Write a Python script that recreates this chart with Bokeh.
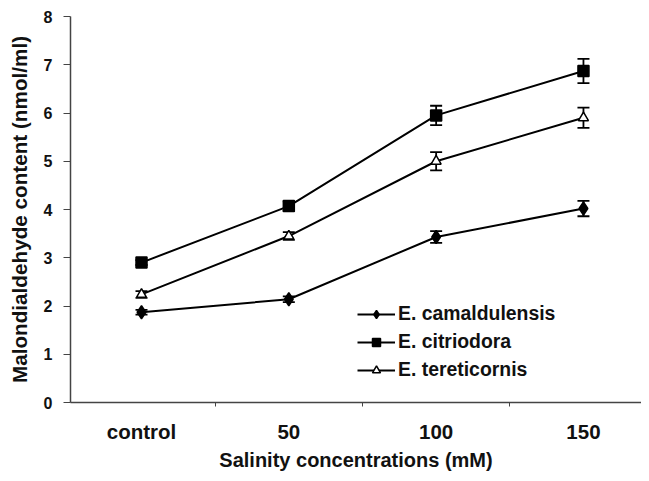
from bokeh.plotting import figure
from bokeh.models import (ColumnDataSource, Range1d, FixedTicker, Whisker, TeeHead,
                          Legend, LegendItem)
from bokeh.embed import file_html
from bokeh.resources import INLINE

categories = ["control", "50", "100", "150"]
camaldulensis = [1.87, 2.14, 3.43, 4.02]
camaldulensis_err = [0.05, 0.06, 0.12, 0.16]
citriodora = [2.90, 4.07, 5.95, 6.87]
citriodora_err = [0.05, 0.10, 0.20, 0.25]
tereticornis = [2.24, 3.45, 5.00, 5.90]
tereticornis_err = [0.07, 0.08, 0.19, 0.21]
y_ticks = [0, 1, 2, 3, 4, 5, 6, 7, 8]
x_title = "Salinity concentrations (mM)"
y_title = "Malondialdehyde content (nmol/ml)"

FONT = "Liberation Sans"
xs = list(range(len(categories)))

p = figure(width=641, height=473, output_backend="svg", toolbar_location=None,
           x_range=Range1d(-0.482, 3.394), y_range=Range1d(0, 8),
           min_border_left=70, min_border_right=0, min_border_top=16, min_border_bottom=70)
p.outline_line_color = None
p.xgrid.visible = False
p.ygrid.visible = False
p.background_fill_color = "white"
p.border_fill_color = "white"

# x axis
p.xaxis.ticker = FixedTicker(ticks=xs, minor_ticks=[i + 0.5 for i in xs])
p.xaxis.major_label_overrides = {i: c for i, c in zip(xs, categories)}
p.xaxis.major_tick_out = 0
p.xaxis.major_tick_in = 0
p.xaxis.minor_tick_out = 4
p.xaxis.minor_tick_in = 0
p.xaxis.major_label_standoff = 13
p.xaxis.major_label_text_font = FONT
p.xaxis.major_label_text_font_style = "bold"
p.xaxis.major_label_text_font_size = "20.5px"
p.xaxis.major_label_text_color = "#111111"
p.xaxis.axis_label = x_title
p.xaxis.axis_label_text_font = FONT
p.xaxis.axis_label_text_font_style = "bold"
p.xaxis.axis_label_text_font_size = "20px"
p.xaxis.axis_label_text_color = "#111111"
p.xaxis.axis_label_standoff = 3

# y axis
p.yaxis.ticker = FixedTicker(ticks=y_ticks)
p.yaxis.major_tick_out = 7
p.yaxis.major_tick_in = 0
p.yaxis.minor_tick_out = 0
p.yaxis.minor_tick_in = 0
p.yaxis.major_label_standoff = 11
p.yaxis.major_label_text_font = FONT
p.yaxis.major_label_text_font_style = "bold"
p.yaxis.major_label_text_font_size = "16px"
p.yaxis.major_label_text_color = "#111111"
p.yaxis.axis_label = y_title
p.yaxis.axis_label_text_font = FONT
p.yaxis.axis_label_text_font_style = "bold"
p.yaxis.axis_label_text_font_size = "20.7px"
p.yaxis.axis_label_text_color = "#111111"
p.yaxis.axis_label_standoff = 10

for ax in (p.xaxis, p.yaxis):
    ax.axis_line_color = "#444444"
    ax.axis_line_width = 1.5
    ax.major_tick_line_color = "#444444"
    ax.minor_tick_line_color = "#444444"

series = [
    ("E. camaldulensis", camaldulensis, camaldulensis_err, "diamond", "black", 13),
    ("E. citriodora", citriodora, citriodora_err, "square", "black", 11),
    ("E. tereticornis", tereticornis, tereticornis_err, "triangle", "white", 10),
]

items = []
for name, vals, errs, marker, fill, size in series:
    src = ColumnDataSource(dict(
        x=xs, y=vals,
        upper=[v + e for v, e in zip(vals, errs)],
        lower=[v - e for v, e in zip(vals, errs)],
    ))
    w = Whisker(source=src, base="x", upper="upper", lower="lower",
                line_color="black", line_width=1.8,
                upper_head=TeeHead(size=12, line_color="black", line_width=1.8),
                lower_head=TeeHead(size=12, line_color="black", line_width=1.8))
    p.add_layout(w)
    ln = p.line("x", "y", source=src, line_color="black", line_width=2)
    mk = p.scatter("x", "y", source=src, marker=marker, size=size,
                   fill_color=fill, line_color="black", line_width=1.5)
    items.append(LegendItem(label=name, renderers=[ln, mk]))

legend = Legend(items=items, location=(287, 21), glyph_width=38, glyph_height=20,
                label_height=20, spacing=5, padding=0, margin=0,
                label_standoff=3, border_line_color=None, background_fill_alpha=0,
                label_text_font=FONT, label_text_font_style="bold",
                label_text_font_size="19.4px", label_text_color="#111111")
p.add_layout(legend, "center")

open("out.html", "w").write(file_html(p, INLINE))
